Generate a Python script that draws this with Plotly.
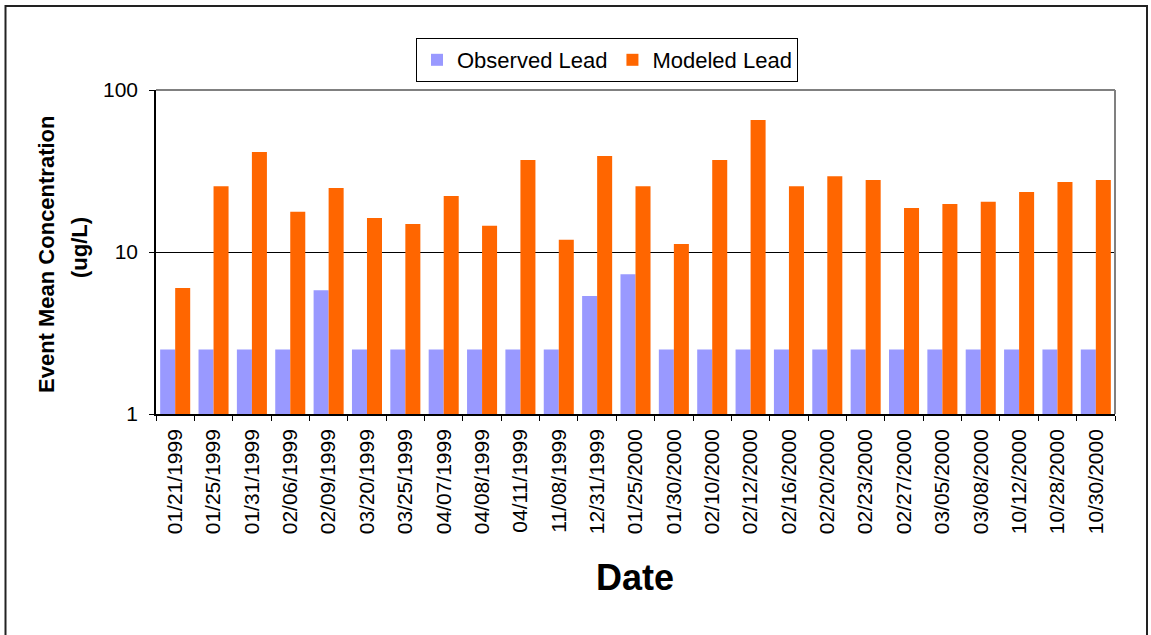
import plotly.graph_objects as go

dates = ["01/21/1999", "01/25/1999", "01/31/1999", "02/06/1999", "02/09/1999",
         "03/20/1999", "03/25/1999", "04/07/1999", "04/08/1999", "04/11/1999",
         "11/08/1999", "12/31/1999", "01/25/2000", "01/30/2000", "02/10/2000",
         "02/12/2000", "02/16/2000", "02/20/2000", "02/23/2000", "02/27/2000",
         "03/05/2000", "03/08/2000", "10/12/2000", "10/28/2000", "10/30/2000"]
observed_lead = [2.5, 2.5, 2.5, 2.5, 5.8, 2.5, 2.5, 2.5, 2.5, 2.5,
                 2.5, 5.35, 7.3, 2.5, 2.5, 2.5, 2.5, 2.5, 2.5, 2.5,
                 2.5, 2.5, 2.5, 2.5, 2.5]
modeled_lead = [6.0, 25.5, 41.4, 17.7, 24.8, 16.2, 14.9, 22.2, 14.5, 37.0,
                11.9, 39.1, 25.5, 11.2, 37.0, 65.3, 25.5, 29.4, 27.8, 18.7,
                19.8, 20.4, 23.5, 27.0, 27.8]
y_tickvals = [1, 10, 100]
y_ticktext = ["1", "10", "100"]

W, H = 1151, 635
L, R, T, B = 156, 1115, 90, 414
PW, PH = R - L, B - T


def px(x):
    return (x - L) / PW


def py(y):
    return (B - y) / PH


FONT = "Arial, Liberation Sans, sans-serif"

fig = go.Figure()
fig.add_trace(go.Bar(x=dates, y=observed_lead, name="Observed Lead",
                     marker=dict(color="#9999FF", line=dict(width=0))))
fig.add_trace(go.Bar(x=dates, y=modeled_lead, name="Modeled Lead",
                     marker=dict(color="#FF6600", line=dict(width=0))))

fig.update_layout(
    width=W, height=H,
    margin=dict(l=L, r=W - R, t=T, b=H - B, autoexpand=False),
    paper_bgcolor="white", plot_bgcolor="white",
    barmode="group", bargap=0.217, bargroupgap=0,
    font=dict(family=FONT, color="black", size=20),
    showlegend=True,
    legend=dict(orientation="h", x=px(416), y=py(38), xanchor="left", yanchor="top",
                bordercolor="black", borderwidth=1, bgcolor="white",
                font=dict(family=FONT, size=22, color="black"),
                itemwidth=30, traceorder="normal"),
    xaxis=dict(type="category", tickangle=-90, ticks="outside", tickson="boundaries",
               ticklen=5, tickcolor="black", tickwidth=1, showline=True,
               linecolor="black", linewidth=1.5, showgrid=False,
               ticklabelstandoff=5,
               tickfont=dict(family=FONT, size=21, color="black"),
               range=[-0.5, len(dates) - 0.5]),
    yaxis=dict(type="log", range=[0, 2], tickvals=y_tickvals, ticktext=y_ticktext,
               ticks="outside", ticklen=5, tickcolor="black", tickwidth=1,
               showline=True, linecolor="black", linewidth=1.5,
               showgrid=True, gridcolor="black", gridwidth=1, zeroline=False,
               ticklabelstandoff=7,
               tickfont=dict(family=FONT, size=21, color="black")),
    shapes=[
        dict(type="line", xref="paper", yref="paper", x0=0, x1=1, y0=1, y1=1,
             line=dict(color="#808080", width=2), layer="above"),
        dict(type="line", xref="paper", yref="paper", x0=1, x1=1, y0=0, y1=1,
             line=dict(color="#808080", width=2), layer="above"),
        dict(type="rect", xref="paper", yref="paper", x0=px(5.5), x1=px(1147),
             y0=py(645), y1=py(6), line=dict(color="#222222", width=2),
             fillcolor="rgba(0,0,0,0)", layer="above"),
    ],
    annotations=[
        dict(text="<b>Event Mean Concentration</b>", xref="paper", yref="paper",
             x=px(46), y=py(255), xanchor="center", yanchor="middle", textangle=-90,
             showarrow=False, font=dict(family=FONT, size=22, color="black")),
        dict(text="<b>(ug/L)</b>", xref="paper", yref="paper",
             x=px(80), y=py(248), xanchor="center", yanchor="middle", textangle=-90,
             showarrow=False, font=dict(family=FONT, size=22, color="black")),
        dict(text="<b>Date</b>", xref="paper", yref="paper",
             x=px(635), y=py(577), xanchor="center", yanchor="middle",
             showarrow=False, font=dict(family=FONT, size=36, color="black")),
    ],
)

fig.write_html("out.html", config={"displayModeBar": False})

with open("out.html", "r", encoding="utf-8") as f:
    html = f.read()
html = html.replace("<body>", '<body style="margin:0;padding:0;overflow:hidden;">', 1)
with open("out.html", "w", encoding="utf-8") as f:
    f.write(html)
